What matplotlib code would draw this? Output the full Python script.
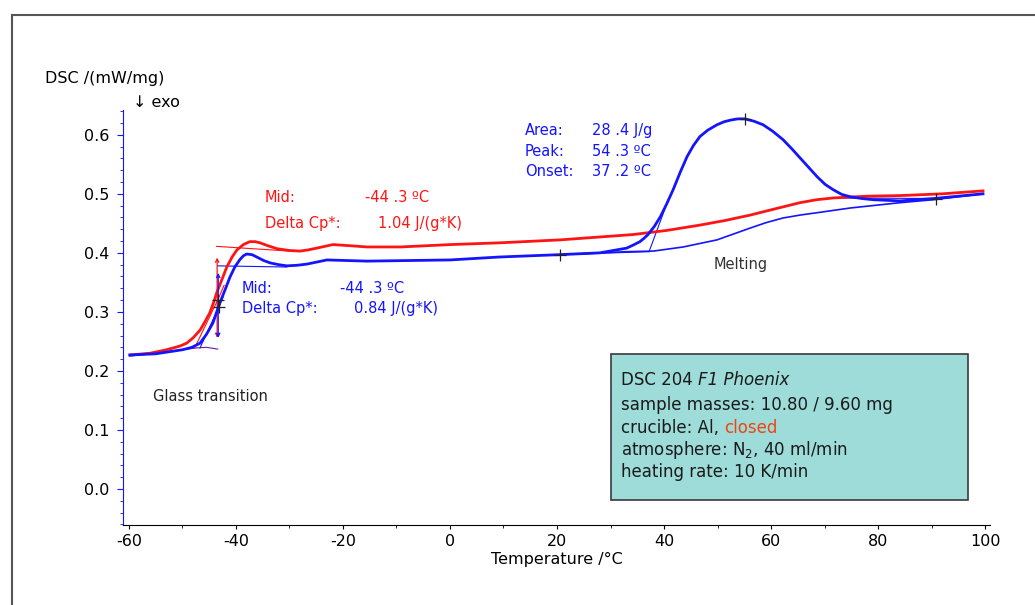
import matplotlib
matplotlib.use("Agg")
import matplotlib.pyplot as plt
from matplotlib.lines import Line2D
from matplotlib.patches import Rectangle
from matplotlib.text import Annotation

plt.rcParams['font.family'] = ['DejaVu Sans']

# red curve
t_red = [-59.8, -56, -52.9, -50.5, -49.2, -48, -46.7, -45.8, -44.9, -44.2, -43.6, -42.6,
         -41.7, -40.7, -39.8, -38.6, -37.4, -36.4, -35.5, -34, -32.3, -30, -28, -26.5,
         -24.9, -23.4, -21.9, -18.5, -15.5, -9.3, 0, 9.3, 20.6, 34.2, 40.5, 46.7, 51.5,
         56.1, 60.5, 65.4, 68.5, 71.6, 78, 84.1, 92, 99.6]
v_red = [0.227, 0.230, 0.236, 0.242, 0.247, 0.256, 0.269, 0.283, 0.298, 0.315, 0.332, 0.355,
         0.376, 0.393, 0.405, 0.414, 0.419, 0.419, 0.417, 0.412, 0.407, 0.404, 0.403, 0.405,
         0.408, 0.411, 0.414, 0.412, 0.410, 0.410, 0.414, 0.417, 0.422, 0.431, 0.438, 0.447, 0.455,
         0.464, 0.474, 0.485, 0.490, 0.493, 0.496, 0.497, 0.500, 0.505]

# blue curve (with melting peak)
t_blue = [-59.8, -55, -49.9, -48.2, -46.7, -45.5, -44.3, -43, -42, -41.1, -40.2, -39.3,
          -38.6, -38, -37, -36.1, -34.8, -33.6, -32, -30.5, -28.5, -26.7, -23, -15.5, 0,
          9.3, 20.6, 28, 33, 34.2, 35.5, 36.3, 37, 38.2, 39.3, 40.5, 41.7, 43, 44.3, 45.5,
          46.7, 48.2, 49.9, 51.2, 52.5, 53.8, 55.1, 56.8, 58.5, 60.3, 62.2, 63.8, 65.4,
          67, 68.6, 70.1, 71.6, 73.2, 74.8, 77, 79.1, 84.1, 90.3, 99.6]
v_blue = [0.227, 0.229, 0.236, 0.240, 0.247, 0.262, 0.281, 0.315, 0.338, 0.359, 0.376, 0.388,
          0.395, 0.398, 0.397, 0.393, 0.387, 0.383, 0.380, 0.378, 0.379, 0.381, 0.388, 0.386, 0.388,
          0.393, 0.397, 0.400, 0.408, 0.413, 0.419, 0.425, 0.431, 0.445, 0.461, 0.483, 0.507, 0.536,
          0.563, 0.582, 0.597, 0.608, 0.617, 0.622, 0.625, 0.627, 0.627, 0.623, 0.617, 0.606,
          0.592, 0.577, 0.561, 0.545, 0.529, 0.516, 0.507, 0.499, 0.495, 0.492, 0.490, 0.488,
          0.492, 0.500]

# blue thin curve (no melting)
t_blue2 = [20.6, 28, 33, 38, 43.6, 49.9, 56.1, 59, 62.2, 65.4, 68.6, 74.8, 84.1, 90.3, 99.6]
v_blue2 = [0.397, 0.400, 0.402, 0.403, 0.410, 0.422, 0.442, 0.451, 0.459, 0.464, 0.468, 0.476,
           0.485, 0.490, 0.500]

# evaluation helper lines
red_base_hi = ([-43.6, -30], [0.411, 0.403])
blue_base_hi = ([-43.4, -30.5], [0.378, 0.376])
base_lo = ([-59.8, -47.3, -45.5, -43.4], [0.225, 0.239, 0.240, 0.237])
red_tangent = ([-47.7, -43.4, -42.2], [0.239, 0.320, 0.345])
blue_tangent = ([-46.7, -43.2, -42.4], [0.239, 0.308, 0.325])
melt_base = ([20.6, 37.2], [0.397, 0.402])
melt_tangent = ([37.2, 40.8], [0.402, 0.49])
melt_base2 = ([73.5, 90.9], [0.493, 0.492])
red_arrow = (-43.5, 0.392, 0.256)
blue_arrow = (-43.3, 0.366, 0.256)
crosses_t = [-43.4, -43.2, 55.1, 20.6, 90.9]
crosses_v = [0.320, 0.308, 0.627, 0.397, 0.492]

RED = '#ff1414'
BLUE = '#1414ff'
INK = '#1a1a1a'

fig = plt.figure(figsize=(10.35, 6.05), dpi=100)
ax = fig.add_axes([0.1188, 0.1322, 0.8377, 0.686])

ax.plot(t_red, v_red, color=RED, lw=2.0, zorder=3)
ax.plot(t_blue2, v_blue2, color=BLUE, lw=1.2, zorder=3)
ax.plot(t_blue, v_blue, color=BLUE, lw=2.0, zorder=4)

ax.plot(*red_base_hi, color=RED, lw=0.8)
ax.plot(*blue_base_hi, color=BLUE, lw=0.8)
ax.plot(*base_lo, color='#6a1aa0', lw=0.8)
ax.plot(*red_tangent, color=RED, lw=0.8)
ax.plot(*blue_tangent, color=BLUE, lw=0.8)
ax.plot(*melt_base, color=BLUE, lw=0.8)
ax.plot(*melt_tangent, color=BLUE, lw=0.8)
ax.plot(*melt_base2, color=BLUE, lw=0.8)

for (xa, y1, y2), c in [(red_arrow, RED), (blue_arrow, BLUE)]:
    ax.annotate('', xy=(xa, y1), xytext=(xa, y2),
                arrowprops=dict(arrowstyle='<->', color=c, lw=0.9,
                                mutation_scale=6, shrinkA=0, shrinkB=0))
ax.plot(crosses_t, crosses_v, '+', color='#222222', ms=8, mew=0.9, zorder=5)

ax.set_xlim(-61.1, 100.9)
ax.set_ylim(-0.061, 0.642)
ax.set_xticks(range(-60, 101, 20))
ax.set_xticks(range(-60, 101, 10), minor=True)
ax.set_yticks([0.0, 0.1, 0.2, 0.3, 0.4, 0.5, 0.6])
ax.set_yticks([i * 0.02 for i in range(-3, 33)], minor=True)
ax.set_yticklabels(['0.0', '0.1', '0.2', '0.3', '0.4', '0.5', '0.6'])
ax.set_xticklabels(['-60', '-40', '-20', '0', '20', '40', '60', '80', '100'])

for s in ['top', 'right']:
    ax.spines[s].set_visible(False)
ax.spines['left'].set_color(BLUE)
ax.spines['bottom'].set_color('black')
ax.tick_params(axis='y', which='major', length=4, color=BLUE, labelsize=11.5, pad=6)
ax.tick_params(axis='y', which='minor', length=2.5, color=BLUE)
ax.tick_params(axis='x', which='major', length=3, direction='out', labelsize=11.5)
ax.tick_params(axis='x', which='minor', length=2, direction='out')
ax.set_xlabel('Temperature /°C', fontsize=11.5, labelpad=2)

fig.text(0.0435, 0.871, 'DSC /(mW/mg)', fontsize=11.5, va='center', ha='left')
fig.text(0.1285, 0.830, '↓ exo', fontsize=11.5, va='center', ha='left')

fs = 10.5
ax.text(-34.6, 0.493, 'Mid:', color=RED, fontsize=fs, va='center')
ax.text(-15.9, 0.493, '-44 .3 ºC', color=RED, fontsize=fs, va='center')
ax.text(-34.6, 0.449, 'Delta Cp*:', color=RED, fontsize=fs, va='center')
ax.text(-13.5, 0.449, '1.04 J/(g*K)', color=RED, fontsize=fs, va='center')
ax.text(-38.9, 0.339, 'Mid:', color=BLUE, fontsize=fs, va='center')
ax.text(-20.6, 0.339, '-44 .3 ºC', color=BLUE, fontsize=fs, va='center')
ax.text(-38.9, 0.305, 'Delta Cp*:', color=BLUE, fontsize=fs, va='center')
ax.text(-17.9, 0.305, '0.84 J/(g*K)', color=BLUE, fontsize=fs, va='center')
ax.text(14.0, 0.608, 'Area:', color=BLUE, fontsize=fs, va='center')
ax.text(26.5, 0.608, '28 .4 J/g', color=BLUE, fontsize=fs, va='center')
ax.text(14.0, 0.571, 'Peak:', color=BLUE, fontsize=fs, va='center')
ax.text(26.5, 0.571, '54 .3 ºC', color=BLUE, fontsize=fs, va='center')
ax.text(14.0, 0.537, 'Onset:', color=BLUE, fontsize=fs, va='center')
ax.text(26.5, 0.537, '37 .2 ºC', color=BLUE, fontsize=fs, va='center')
ax.text(49.2, 0.380, 'Melting', color='#333333', fontsize=fs, va='center')
ax.text(-55.5, 0.156, 'Glass transition', color='#222222', fontsize=fs, va='center')

# info box
fig.add_artist(Rectangle((0.590, 0.1736), 0.345, 0.2413, transform=fig.transFigure,
                         facecolor='#9ddcd9', edgecolor='#3a3a3a', lw=1.2, zorder=5))
bx = 0.600
bfs = 12
t1 = fig.text(bx, 0.372, 'DSC 204 ', fontsize=bfs, va='center', color=INK, zorder=6)
fig.add_artist(Annotation('F1 Phoenix', xy=(1, 0.5), xycoords=t1, va='center', ha='left',
                          fontsize=bfs, style='italic', color=INK, zorder=7))
fig.text(bx, 0.331, 'sample masses: 10.80 / 9.60 mg', fontsize=bfs, va='center', color=INK, zorder=6)
t3 = fig.text(bx, 0.293, 'crucible: Al, ', fontsize=bfs, va='center', color=INK, zorder=6)
fig.add_artist(Annotation('closed', xy=(1, 0.5), xycoords=t3, va='center', ha='left',
                          fontsize=bfs, color='#ee4411', zorder=7))
fig.text(bx, 0.256, 'atmosphere: N$_2$, 40 ml/min', fontsize=bfs, va='center', color=INK, zorder=6)
fig.text(bx, 0.220, 'heating rate: 10 K/min', fontsize=bfs, va='center', color=INK, zorder=6)

# page frame
fig.add_artist(Line2D([0.0116, 1.0], [0.975, 0.975], color='#555555', lw=1.5))
fig.add_artist(Line2D([0.0116, 0.0116], [0.0, 0.975], color='#555555', lw=1.5))

fig.savefig('out.png', dpi=100)
